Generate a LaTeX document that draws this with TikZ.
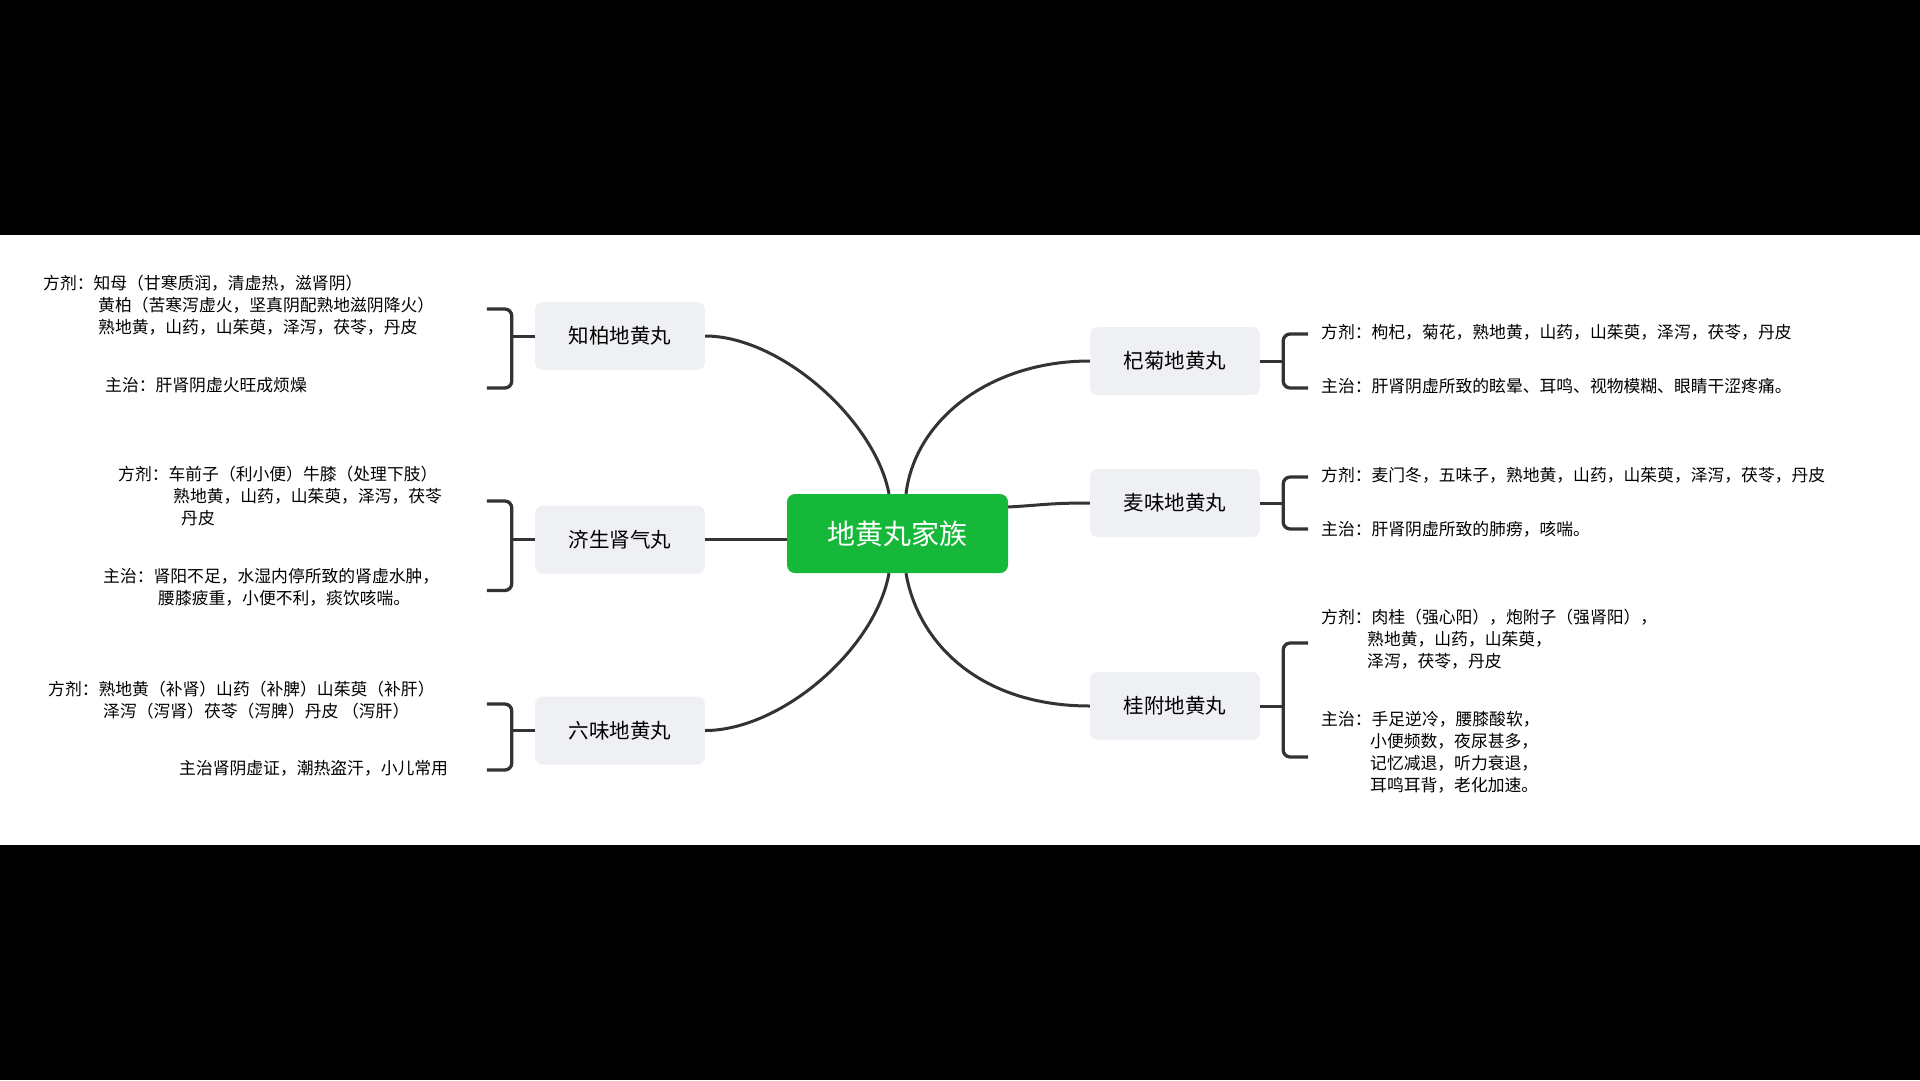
\documentclass[tikz,border=0pt]{standalone}
\usepackage{fontspec}
\setmainfont{Noto Sans CJK SC}
\usepackage{tikz}
\usetikzlibrary{calc}
\definecolor{leafgreen}{RGB}{22,184,58}
\definecolor{boxgray}{RGB}{238,240,243}
\definecolor{linegray}{RGB}{51,51,51}

\begin{document}
\begin{tikzpicture}[x=1pt,y=-1pt,
	hub/.style={fill=leafgreen,rounded corners=8pt,minimum width=221pt,minimum height=79pt,text=white,font=\fontsize{28}{32}\selectfont},
	herb/.style={fill=boxgray,rounded corners=8pt,minimum width=170pt,minimum height=68pt,font=\fontsize{20.5}{24}\selectfont},
	note/.style={anchor=west,inner sep=0pt,align=left,font=\fontsize{16.8}{22}\selectfont},
	link/.style={draw=linegray,line width=3pt},
	bracket/.style={draw=linegray,line width=3.3pt,rounded corners=7pt}]
					\fill[black] (0,0) rectangle (1920,1080);
					\fill[white] (0,235) rectangle (1920,845);
					\useasboundingbox (0,0) rectangle (1920,1080);
					% family nodes
					\node[hub] (hub) at (897.5,533.5) {地黄丸家族};
					\node[herb] (zb) at (620,336) {知柏地黄丸};
					\node[herb] (js) at (620,539.5) {济生肾气丸};
					\node[herb] (lw) at (620,730.5) {六味地黄丸};
					\node[herb] (qj) at (1175,361) {杞菊地黄丸};
					\node[herb] (mw) at (1175,503) {麦味地黄丸};
					\node[herb] (gf) at (1175,706) {桂附地黄丸};
					% links
					\draw[link] ([xshift=-8.5pt]hub.north) .. controls +(-14,-74) and +(75,0) .. (zb.east);
					\draw[link] (js.east) -- (js.east -| hub.west);
					\draw[link] ([xshift=-8.5pt]hub.south) .. controls +(-14,77) and +(75,0) .. (lw.east);
					\draw[link] ([xshift=8.5pt]hub.north) .. controls +(9,-74) and +(-100,0) .. (qj.west);
					\draw[link] ([yshift=26.5pt]hub.east) .. controls +(35,-2) and +(-40,0) .. (mw.west);
					\draw[link] ([xshift=8.5pt]hub.south) .. controls +(12,70) and +(-110,0) .. (gf.west);
					% brackets
					\foreach \n/\t/\b in {zb/-27/52, js/-38.5/51, lw/-26.5/39.5} {
						\draw[bracket] ($(\n.west)+(-48,\t)$) -- ($(\n.west)+(-23,\t)$) -- ($(\n.west)+(-23,\b)$) -- ($(\n.west)+(-48,\b)$);
						\draw[link] (\n.west) -- ($(\n.west)+(-23,0)$);
					}
					\foreach \n/\t/\b in {qj/-27/27, mw/-26/26, gf/-63/51} {
						\draw[bracket] ($(\n.east)+(48,\t)$) -- ($(\n.east)+(23,\t)$) -- ($(\n.east)+(23,\b)$) -- ($(\n.east)+(48,\b)$);
						\draw[link] (\n.east) -- ($(\n.east)+(23,0)$);
					}
					% notes, left
					\node[note] (zb-fang) at (43,305) {方剂：知母（甘寒质润，清虚热，滋肾阴）\\\hspace*{55pt}黄柏（苦寒泻虚火，坚真阴配熟地滋阴降火）\\\hspace*{55pt}熟地黄，山药，山茱萸，泽泻，茯苓，丹皮};
					\node[note] (zb-zhu) at (105,385) {主治：肝肾阴虚火旺成烦燥};
					\node[note] (js-fang) at (118,496) {方剂：车前子（利小便）牛膝（处理下肢）\\\hspace*{55pt}熟地黄，山药，山茱萸，泽泻，茯苓\\\hspace*{63pt}丹皮};
					\node[note] (js-zhu) at (103,587.5) {主治：肾阳不足，水湿内停所致的肾虚水肿，\\\hspace*{55pt}腰膝疲重，小便不利，痰饮咳喘。};
					\node[note] (lw-fang) at (48,700) {方剂：熟地黄（补肾）山药（补脾）山茱萸（补肝）\\\hspace*{55pt}泽泻（泻肾）茯苓（泻脾）丹皮 （泻肝）};
					\node[note] (lw-zhu) at (179,768) {主治肾阴虚证，潮热盗汗，小儿常用};
					% notes, right
					\node[note] (qj-fang) at (1321,332) {方剂：枸杞，菊花，熟地黄，山药，山茱萸，泽泻，茯苓，丹皮};
					\node[note] (qj-zhu) at (1321,386) {主治：肝肾阴虚所致的眩晕、耳鸣、视物模糊、眼睛干涩疼痛。};
					\node[note] (mw-fang) at (1321,475) {方剂：麦门冬，五味子，熟地黄，山药，山茱萸，泽泻，茯苓，丹皮};
					\node[note] (mw-zhu) at (1321,529) {主治：肝肾阴虚所致的肺痨，咳喘。};
					\node[note] (gf-fang) at (1321,639) {方剂：肉桂（强心阳），炮附子（强肾阳），\\\hspace*{46pt}熟地黄，山药，山茱萸，\\\hspace*{46pt}泽泻，茯苓，丹皮};
					\node[note] (gf-zhu) at (1321,752) {主治：手足逆冷，腰膝酸软，\\\hspace*{49pt}小便频数，夜尿甚多，\\\hspace*{49pt}记忆减退，听力衰退，\\\hspace*{49pt}耳鸣耳背，老化加速。};
				\end{tikzpicture}
\end{document}
